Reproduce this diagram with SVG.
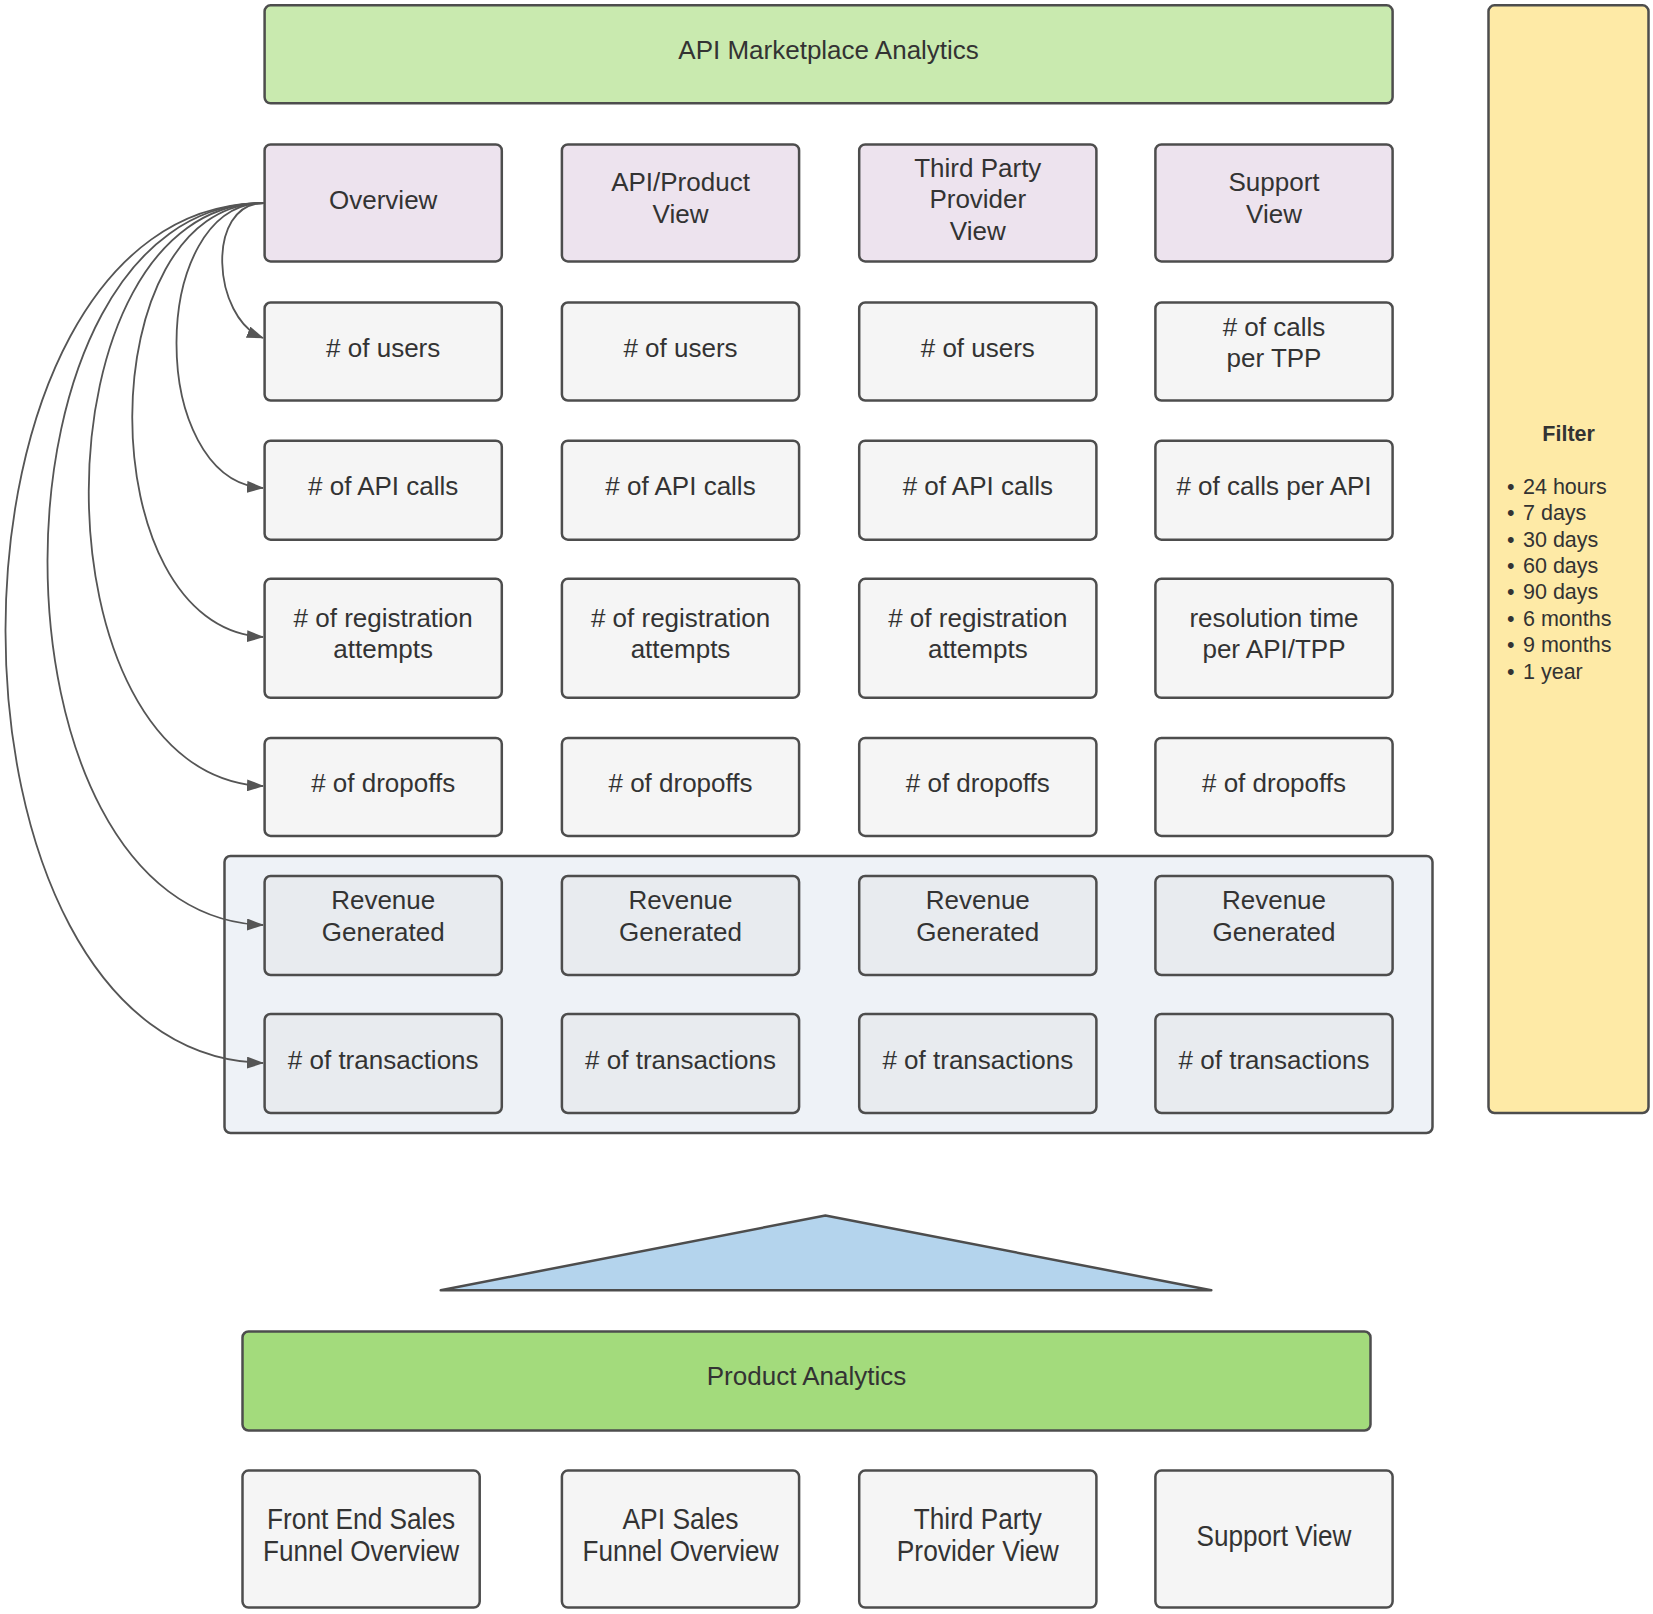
<svg xmlns="http://www.w3.org/2000/svg" width="1653" height="1614" viewBox="0 0 1653 1614">
<defs>
<style>
.b{stroke:#4d4d4d;stroke-width:2.5}
.t{font-family:"Liberation Sans",Arial,sans-serif;font-size:26px;fill:#333;text-anchor:middle}
.f{font-family:"Liberation Sans",Arial,sans-serif;font-size:21.5px;fill:#333}
.m{fill:#f5f5f5}
.g{fill:#e8ebef}
.h{fill:#ede3ee}
.c{fill:none;stroke:#555;stroke-width:1.8}
</style>
<marker id="ar" viewBox="0 0 17 12" refX="16" refY="6" markerWidth="17" markerHeight="12" markerUnits="userSpaceOnUse" orient="auto">
<path d="M0,0 L17,6 L0,12 z" fill="#555"/>
</marker>
</defs>
<rect width="1653" height="1614" fill="#fff"/>

<g id="group-box"><rect x="224.5" y="856" width="1208" height="277" rx="6" fill="#eef2f7" class="b"/></g>

<g id="title"><rect x="264.6" y="5.3" width="1128" height="98" rx="6" fill="#c9eaaf" class="b"/><text class="t" x="828.6" y="58.5">API Marketplace Analytics</text></g>

<g id="filter"><rect x="1488.5" y="5.3" width="160" height="1107.7" rx="6" fill="#feeaa6" class="b"/>
<text x="1568.6" y="441" style="font-family:'Liberation Sans',Arial,sans-serif;font-size:21.5px;font-weight:bold;fill:#333;text-anchor:middle">Filter</text>
<g class="f">
<text x="1507" y="494">•</text><text x="1523" y="494">24 hours</text>
<text x="1507" y="520.3">•</text><text x="1523" y="520.3">7 days</text>
<text x="1507" y="546.7">•</text><text x="1523" y="546.7">30 days</text>
<text x="1507" y="573">•</text><text x="1523" y="573">60 days</text>
<text x="1507" y="599.4">•</text><text x="1523" y="599.4">90 days</text>
<text x="1507" y="625.7">•</text><text x="1523" y="625.7">6 months</text>
<text x="1507" y="652">•</text><text x="1523" y="652">9 months</text>
<text x="1507" y="678.5">•</text><text x="1523" y="678.5">1 year</text>
</g>
</g>

<!-- header row -->
<g id="h1"><rect x="264.6" y="144.4" width="237.2" height="117" rx="6" class="b h"/><text class="t" x="383.2" y="209.3">Overview</text></g>
<g id="h2"><rect x="561.9" y="144.4" width="237.2" height="117" rx="6" class="b h"/><text class="t" x="680.5" y="191.4">API/Product</text><text class="t" x="680.5" y="223">View</text></g>
<g id="h3"><rect x="859.2" y="144.4" width="237.2" height="117" rx="6" class="b h"/><text class="t" x="977.8" y="176.6">Third Party</text><text class="t" x="977.8" y="208.2">Provider</text><text class="t" x="977.8" y="239.9">View</text></g>
<g id="h4"><rect x="1155.4" y="144.4" width="237.2" height="117" rx="6" class="b h"/><text class="t" x="1274" y="191.4">Support</text><text class="t" x="1274" y="223">View</text></g>

<!-- users row -->
<g id="u1"><rect x="264.6" y="302.5" width="237.2" height="98" rx="6" class="b m"/><text class="t" x="383.2" y="356.9"># of users</text></g>
<g id="u2"><rect x="561.9" y="302.5" width="237.2" height="98" rx="6" class="b m"/><text class="t" x="680.5" y="356.9"># of users</text></g>
<g id="u3"><rect x="859.2" y="302.5" width="237.2" height="98" rx="6" class="b m"/><text class="t" x="977.8" y="356.9"># of users</text></g>
<g id="u4"><rect x="1155.4" y="302.5" width="237.2" height="98" rx="6" class="b m"/><text class="t" x="1274" y="335.8"># of calls</text><text class="t" x="1274" y="367.4">per TPP</text></g>

<!-- API calls row -->
<g id="a1"><rect x="264.6" y="440.7" width="237.2" height="99" rx="6" class="b m"/><text class="t" x="383.2" y="495"># of API calls</text></g>
<g id="a2"><rect x="561.9" y="440.7" width="237.2" height="99" rx="6" class="b m"/><text class="t" x="680.5" y="495"># of API calls</text></g>
<g id="a3"><rect x="859.2" y="440.7" width="237.2" height="99" rx="6" class="b m"/><text class="t" x="977.8" y="495"># of API calls</text></g>
<g id="a4"><rect x="1155.4" y="440.7" width="237.2" height="99" rx="6" class="b m"/><text class="t" x="1274" y="495"># of calls per API</text></g>

<!-- registration row -->
<g id="r1"><rect x="264.6" y="578.8" width="237.2" height="119" rx="6" class="b m"/><text class="t" x="383.2" y="626.8"># of registration</text><text class="t" x="383.2" y="658.4">attempts</text></g>
<g id="r2"><rect x="561.9" y="578.8" width="237.2" height="119" rx="6" class="b m"/><text class="t" x="680.5" y="626.8"># of registration</text><text class="t" x="680.5" y="658.4">attempts</text></g>
<g id="r3"><rect x="859.2" y="578.8" width="237.2" height="119" rx="6" class="b m"/><text class="t" x="977.8" y="626.8"># of registration</text><text class="t" x="977.8" y="658.4">attempts</text></g>
<g id="r4"><rect x="1155.4" y="578.8" width="237.2" height="119" rx="6" class="b m"/><text class="t" x="1274" y="626.8">resolution time</text><text class="t" x="1274" y="658.4">per API/TPP</text></g>

<!-- dropoffs row -->
<g id="d1"><rect x="264.6" y="737.9" width="237.2" height="98" rx="6" class="b m"/><text class="t" x="383.2" y="792.3"># of dropoffs</text></g>
<g id="d2"><rect x="561.9" y="737.9" width="237.2" height="98" rx="6" class="b m"/><text class="t" x="680.5" y="792.3"># of dropoffs</text></g>
<g id="d3"><rect x="859.2" y="737.9" width="237.2" height="98" rx="6" class="b m"/><text class="t" x="977.8" y="792.3"># of dropoffs</text></g>
<g id="d4"><rect x="1155.4" y="737.9" width="237.2" height="98" rx="6" class="b m"/><text class="t" x="1274" y="792.3"># of dropoffs</text></g>

<!-- revenue row -->
<g id="v1"><rect x="264.6" y="876" width="237.2" height="99" rx="6" class="b g"/><text class="t" x="383.2" y="909.3">Revenue</text><text class="t" x="383.2" y="941">Generated</text></g>
<g id="v2"><rect x="561.9" y="876" width="237.2" height="99" rx="6" class="b g"/><text class="t" x="680.5" y="909.3">Revenue</text><text class="t" x="680.5" y="941">Generated</text></g>
<g id="v3"><rect x="859.2" y="876" width="237.2" height="99" rx="6" class="b g"/><text class="t" x="977.8" y="909.3">Revenue</text><text class="t" x="977.8" y="941">Generated</text></g>
<g id="v4"><rect x="1155.4" y="876" width="237.2" height="99" rx="6" class="b g"/><text class="t" x="1274" y="909.3">Revenue</text><text class="t" x="1274" y="941">Generated</text></g>

<!-- transactions row -->
<g id="x1"><rect x="264.6" y="1014" width="237.2" height="99" rx="6" class="b g"/><text class="t" x="383.2" y="1068.5"># of transactions</text></g>
<g id="x2"><rect x="561.9" y="1014" width="237.2" height="99" rx="6" class="b g"/><text class="t" x="680.5" y="1068.5"># of transactions</text></g>
<g id="x3"><rect x="859.2" y="1014" width="237.2" height="99" rx="6" class="b g"/><text class="t" x="977.8" y="1068.5"># of transactions</text></g>
<g id="x4"><rect x="1155.4" y="1014" width="237.2" height="99" rx="6" class="b g"/><text class="t" x="1274" y="1068.5"># of transactions</text></g>

<g id="connectors">
<path class="c" marker-end="url(#ar)" d="M264,203 C205,203 212,318 263,338"/>
<path class="c" marker-end="url(#ar)" d="M264,203 C148,203 147,480 263,488"/>
<path class="c" marker-end="url(#ar)" d="M264,203 C89,203 88,628 263,637"/>
<path class="c" marker-end="url(#ar)" d="M264,203 C31,203 30,777 263,786"/>
<path class="c" marker-end="url(#ar)" d="M264,203 C-24,203 -25,916 263,925"/>
<path class="c" marker-end="url(#ar)" d="M264,203 C-80,203 -81,1055 263,1063"/>
</g>

<g id="triangle"><polygon points="825.4,1215.5 1211.3,1290.3 440.7,1290.3" fill="#b4d4ed" stroke="#4d4d4d" stroke-width="2.5" stroke-linejoin="round"/></g>

<g id="product"><rect x="242.5" y="1331.5" width="1128" height="99" rx="6" fill="#a3db7c" class="b"/><text class="t" x="806.5" y="1384.7">Product Analytics</text></g>

<g id="p1"><rect x="242.5" y="1470.6" width="237.2" height="137" rx="6" class="b m"/><text class="t" x="361.1" y="1529" style="font-size:29px" textLength="188" lengthAdjust="spacingAndGlyphs">Front End Sales</text><text class="t" x="361.1" y="1560.7" style="font-size:29px" textLength="196" lengthAdjust="spacingAndGlyphs">Funnel Overview</text></g>
<g id="p2"><rect x="561.9" y="1470.6" width="237.2" height="137" rx="6" class="b m"/><text class="t" x="680.5" y="1529" style="font-size:29px" textLength="116" lengthAdjust="spacingAndGlyphs">API Sales</text><text class="t" x="680.5" y="1560.7" style="font-size:29px" textLength="196" lengthAdjust="spacingAndGlyphs">Funnel Overview</text></g>
<g id="p3"><rect x="859.2" y="1470.6" width="237.2" height="137" rx="6" class="b m"/><text class="t" x="977.8" y="1529" style="font-size:29px" textLength="128" lengthAdjust="spacingAndGlyphs">Third Party</text><text class="t" x="977.8" y="1560.7" style="font-size:29px" textLength="162" lengthAdjust="spacingAndGlyphs">Provider View</text></g>
<g id="p4"><rect x="1155.4" y="1470.6" width="237.2" height="137" rx="6" class="b m"/><text class="t" x="1274" y="1546" style="font-size:29px" textLength="155" lengthAdjust="spacingAndGlyphs">Support View</text></g>
</svg>
